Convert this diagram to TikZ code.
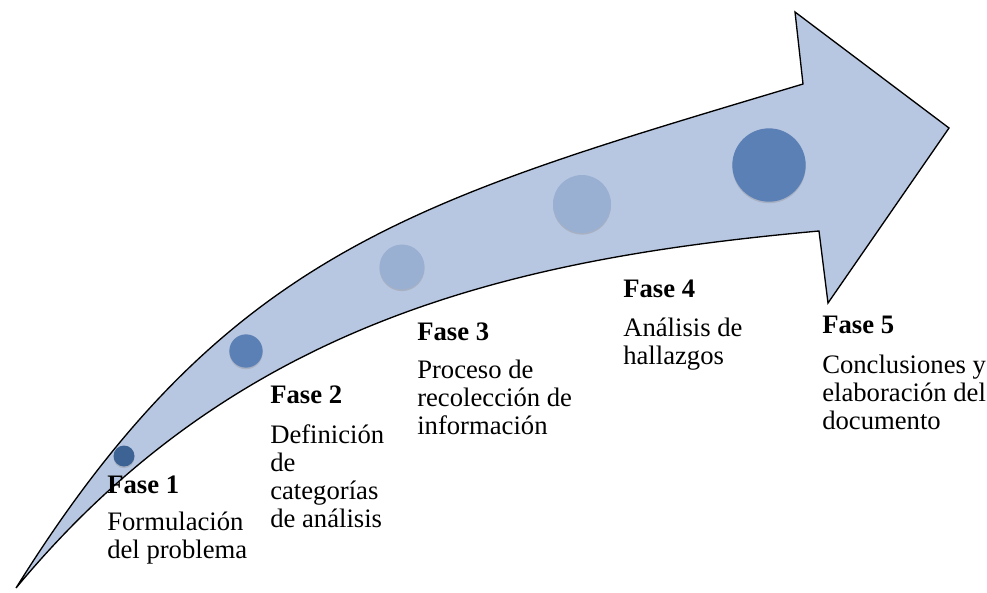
\documentclass[tikz,border=0pt]{standalone}
\usepackage{fontspec}
\setmainfont{Liberation Serif}
\usetikzlibrary{shadows}
\definecolor{arrowfill}{RGB}{184,199,225}
\definecolor{darkdot}{RGB}{60,99,148}
\definecolor{middot}{RGB}{91,128,181}
\definecolor{lightdot}{RGB}{154,176,210}
\tikzset{
  fase/.style={anchor=base west, inner sep=0pt, font=\fontsize{20}{21}\selectfont\bfseries},
  desc/.style={anchor=base west, inner sep=0pt, align=left, font=\fontsize{20}{21}\selectfont},
  dot/.style={circle, inner sep=0pt, drop shadow={opacity=0.3, shadow xshift=0pt, shadow yshift=-1.2pt}},
}

\begin{document}
\begin{tikzpicture}[x=0.75pt, y=-0.75pt]
\useasboundingbox (0,0) rectangle (987,592);
% flecha curva
\filldraw[fill=arrowfill, draw=black, line width=1pt]
  (16,588) .. controls (228,248) and (420,199) .. (803,84)
  -- (795,12) -- (949,128) -- (828,303) -- (819,231)
  .. controls (520,258) and (240,318) .. (16,588) -- cycle;
% puntos
\node[dot, fill=darkdot, minimum size=15.75pt] (p1) at (124,456) {};
\node[dot, fill=middot, minimum size=25pt] (p2) at (246,351) {};
\node[dot, fill=lightdot, minimum size=33.75pt] (p3) at (402,267) {};
\node[dot, fill=lightdot, minimum size=43.5pt] (p4) at (582,204) {};
\node[dot, fill=middot, minimum size=55pt] (p5) at (769,165) {};
% fases (la base del texto es la ultima linea)
\node[fase] (f1) at (107,493) {Fase 1};
\node[desc] (d1) at (107,558) {Formulación\\del problema};
\node[fase] (f2) at (270,403) {Fase 2};
\node[desc] (d2) at (270,527) {Definición\\de\\categorías\\de análisis};
\node[fase] (f3) at (417,340) {Fase 3};
\node[desc] (d3) at (417,434) {Proceso de\\recolección de\\información};
\node[fase] (f4) at (623,297) {Fase 4};
\node[desc] (d4) at (623,364) {Análisis de\\hallazgos};
\node[fase] (f5) at (822,333) {Fase 5};
\node[desc] (d5) at (822,429) {Conclusiones y\\elaboración del\\documento};
\end{tikzpicture}
\end{document}
